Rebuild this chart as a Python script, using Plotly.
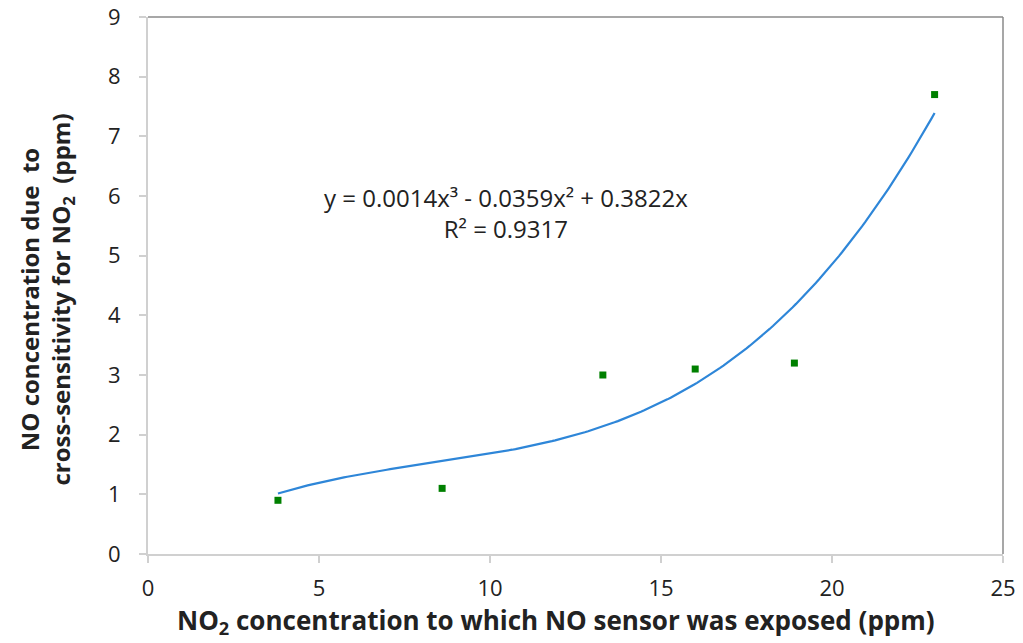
import numpy as np
import plotly.graph_objects as go

# Data
no2_ppm = [3.8, 8.6, 13.3, 16.0, 18.9, 23.0]
no_ppm = [0.9, 1.1, 3.0, 3.1, 3.2, 7.7]
x_ticks = [0, 5, 10, 15, 20, 25]
y_ticks = [0, 1, 2, 3, 4, 5, 6, 7, 8, 9]

# Cubic trendline through origin (least-squares fit, as in the chart)
xa = np.array(no2_ppm)
ya = np.array(no_ppm)
A = np.vstack([xa**3, xa**2, xa]).T
coef, *_ = np.linalg.lstsq(A, ya, rcond=None)
xs = np.linspace(min(no2_ppm), max(no2_ppm), 200)
ys = coef[0] * xs**3 + coef[1] * xs**2 + coef[2] * xs

FONT = "Open Sans"

fig = go.Figure()
fig.add_trace(go.Scatter(x=xs, y=ys, mode="lines",
                         line=dict(color="#2e86d8", width=2.2), hoverinfo="skip"))
fig.add_trace(go.Scatter(x=no2_ppm, y=no_ppm, mode="markers",
                         marker=dict(symbol="square", size=7, color="#008000")))

fig.add_annotation(x=10.47, y=5.72, xref="x", yref="y",
                   text="y = 0.0014x³ - 0.0359x² + 0.3822x<br>R² = 0.9317",
                   showarrow=False, align="center",
                   font=dict(family=FONT, size=24, color="#222222"))

# axis titles as annotations for exact placement
fig.add_annotation(x=0.5, y=0, xref="paper", yref="paper",
                   xanchor="center", yanchor="middle", xshift=-20, yshift=-67,
                   text="<b>NO<sub>2</sub> concentration to which NO sensor was exposed (ppm)</b>",
                   showarrow=False, font=dict(family=FONT, size=26, color="#222222"))
fig.add_annotation(x=0, y=0.5, xref="paper", yref="paper",
                   xanchor="center", yanchor="middle", xshift=-102, yshift=-14,
                   textangle=-90, align="center",
                   text="<b>NO concentration due  to<br>cross-sensitivity for NO<sub>2</sub>  (ppm)</b>",
                   showarrow=False, font=dict(family=FONT, size=24, color="#222222"))

fig.update_layout(
    width=1023, height=643,
    margin=dict(l=148, r=20, t=17, b=89),
    paper_bgcolor="white", plot_bgcolor="white",
    showlegend=False,
    font=dict(family=FONT, color="#222222"),
    xaxis=dict(range=[0, 25], tickvals=x_ticks, showgrid=False, zeroline=False,
               automargin=False,
               showline=True, linecolor="#d0d0d0", linewidth=2,
               ticks="outside", ticklen=7, tickcolor="#d0d0d0", tickwidth=1.5,
               ticklabelstandoff=7,
               tickfont=dict(size=22, family=FONT)),
    yaxis=dict(range=[0, 9], tickvals=y_ticks, showgrid=False, zeroline=False,
               automargin=False,
               showline=True, linecolor="#d0d0d0", linewidth=2,
               ticks="outside", ticklen=7, tickcolor="#d0d0d0", tickwidth=1.5,
               ticklabelstandoff=14,
               tickfont=dict(size=22, family=FONT)),
)

# top and right frame lines
fig.add_shape(type="line", xref="paper", yref="paper", x0=0, x1=1, y0=1, y1=1,
              line=dict(color="#8a8a8a", width=1.5))
fig.add_shape(type="line", xref="paper", yref="paper", x0=1, x1=1, y0=0, y1=1,
              line=dict(color="#8a8a8a", width=1.5))

fig.write_html("out.html")
